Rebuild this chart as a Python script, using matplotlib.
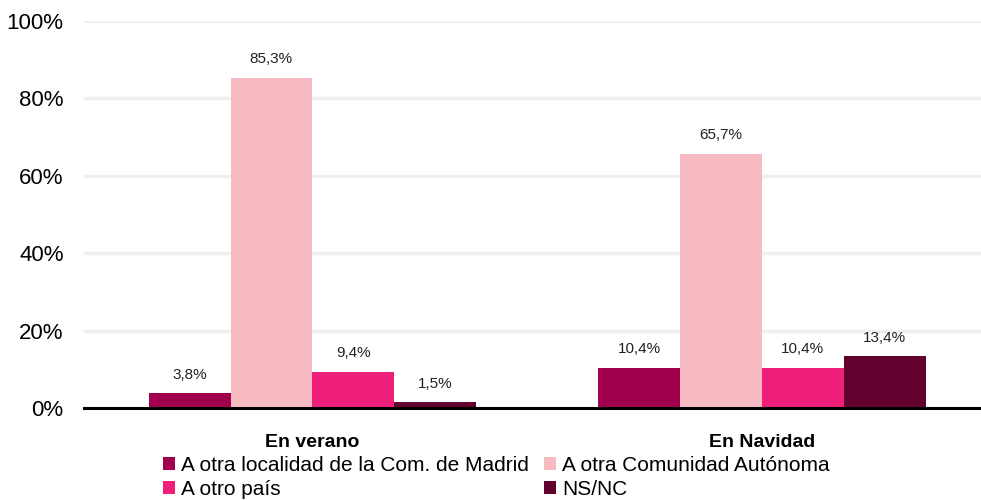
import numpy as np
import matplotlib.pyplot as plt

plt.rcParams['font.family'] = ['Liberation Sans', 'DejaVu Sans']

categories = ["En verano", "En Navidad"]
series = ["A otra localidad de la Com. de Madrid", "A otra Comunidad Autónoma",
          "A otro país", "NS/NC"]
values = [
    [3.8, 10.4],
    [85.3, 65.7],
    [9.4, 10.4],
    [1.5, 13.4],
]
colors = ["#A0004E", "#F7BAC0", "#EE1F78", "#62002E"]
yticks = [0, 20, 40, 60, 80, 100]


def fmt(v):
    return f"{v:.1f}".replace(".", ",") + "%"


def main():
    fig = plt.figure(figsize=(9.81, 5.0), dpi=100)
    ax = fig.add_axes([0.086, 0.184, 0.914, 0.774])

    x = np.arange(len(categories))
    width = 0.182
    offsets = (np.arange(len(series)) - 1.5) * width

    handles = []
    for i, name in enumerate(series):
        bars = ax.bar(x + offsets[i], values[i], width, color=colors[i],
                      label=name, zorder=3)
        handles.append(bars)
        for b, v in zip(bars, values[i]):
            ax.text(b.get_x() + b.get_width() / 2, v + 3, fmt(v),
                    ha="center", va="bottom", fontsize=11, color="#222222")

    ax.set_xlim(-0.507, 1.487)
    ax.set_ylim(0, 100)
    ax.set_yticks(yticks)
    ax.set_yticklabels([f"{t}%" for t in yticks], fontsize=16)
    ax.set_xticks(x)
    ax.set_xticklabels(categories, fontsize=14, fontweight="bold")
    ax.tick_params(axis="both", length=0)
    ax.tick_params(axis="x", pad=19)
    ax.tick_params(axis="y", pad=15)

    ax.yaxis.grid(True, color="#EFEFEF", linewidth=2.5, zorder=0)
    ax.set_axisbelow(True)
    for side in ["top", "right", "left"]:
        ax.spines[side].set_visible(False)
    ax.spines["bottom"].set_linewidth(2.2)
    ax.spines["bottom"].set_color("black")
    ax.spines["bottom"].set_zorder(4)

    # legend is filled row by row in the original, matplotlib goes by column
    order = [0, 2, 1, 3]
    ax.legend([handles[k] for k in order], [series[k] for k in order],
              loc="upper left", bbox_to_anchor=(0.088, -0.124), ncol=2,
              frameon=False, fontsize=15, handlelength=0.55, handleheight=0.6,
              handletextpad=0.3, columnspacing=0.75, labelspacing=0.25,
              borderaxespad=0, borderpad=0)

    fig.savefig("out.png", dpi=100)


if __name__ == "__main__":
    main()
